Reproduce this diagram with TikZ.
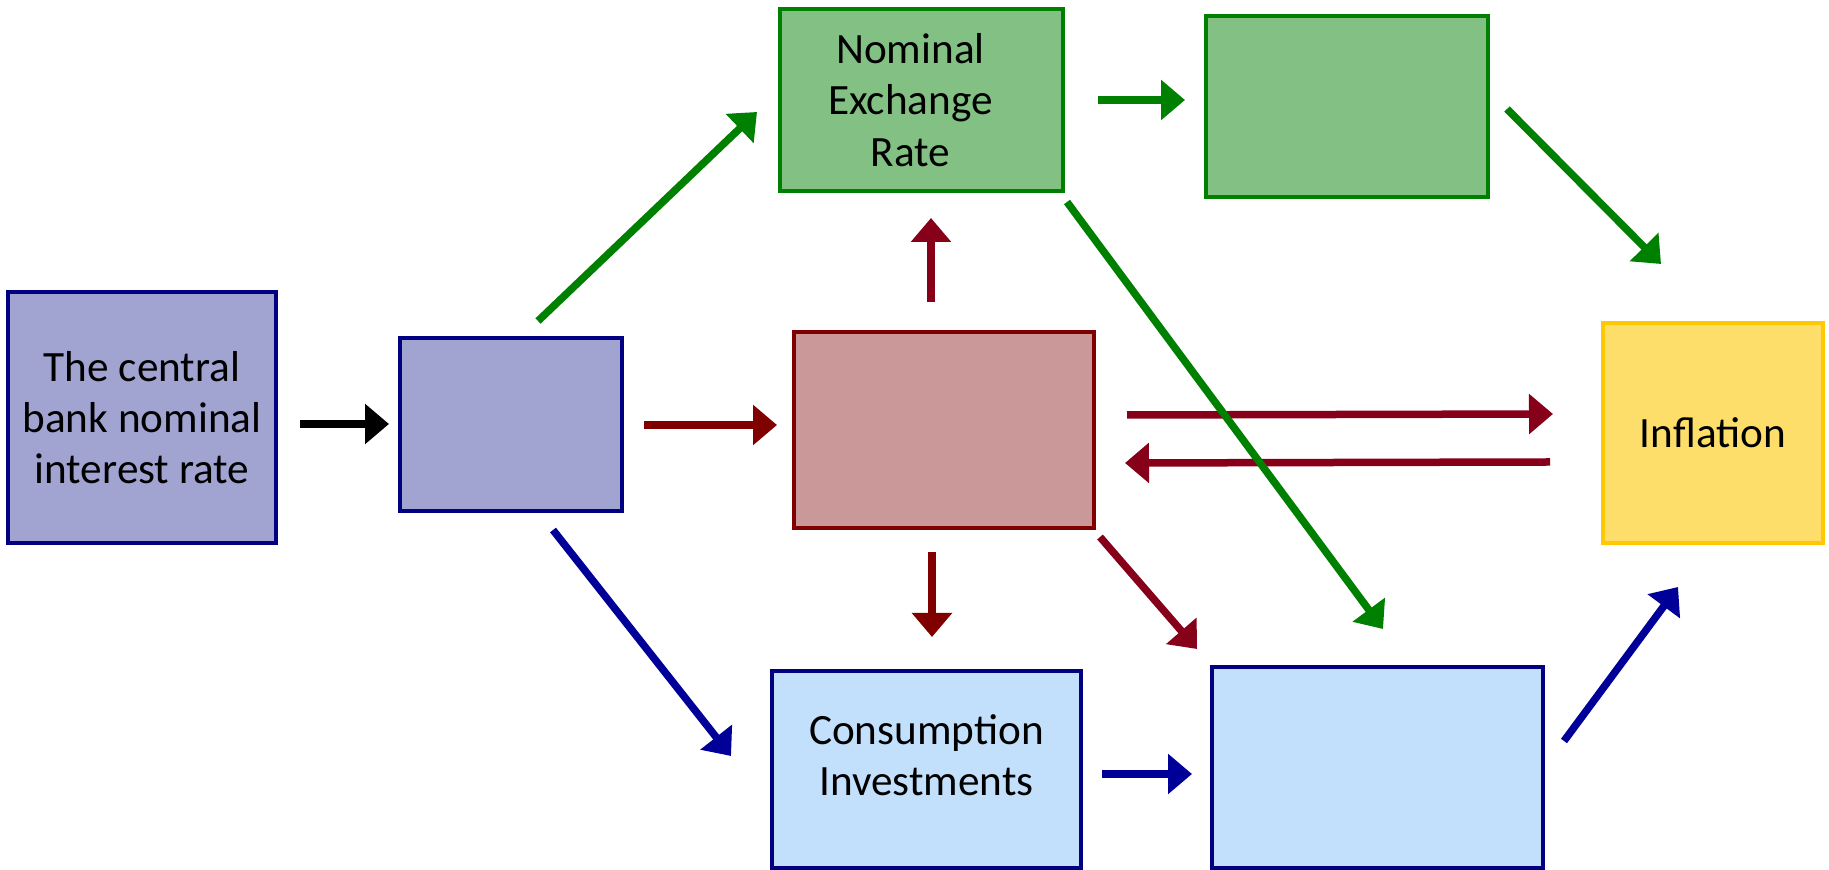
\documentclass[tikz,border=0pt]{standalone}
\usepackage{fontspec}
\setmainfont{Carlito}
\usetikzlibrary{arrows.meta}

\definecolor{purplefill}{HTML}{A1A3D1}
\definecolor{navyline}{HTML}{000080}
\definecolor{greenfill}{HTML}{82C083}
\definecolor{greenline}{HTML}{008000}
\definecolor{redfill}{HTML}{CA9898}
\definecolor{redline}{HTML}{800000}
\definecolor{wine}{HTML}{86001A}
\definecolor{bluefill}{HTML}{C2E0FC}
\definecolor{bluearrow}{HTML}{000099}
\definecolor{yellowfill}{HTML}{FDDE6A}
\definecolor{yellowline}{HTML}{FFC800}

\tikzset{
  boxtext/.style={align=center, font=\fontsize{17.3}{20.5}\selectfont},
  box/.style={draw, line width=1.3pt, inner sep=0pt, boxtext},
  arr/.style={line width=3pt, -{Triangle[length=9.6pt,width=15.6pt]}},
}

\begin{document}
\begin{tikzpicture}[x=0.4pt,y=-0.4pt]
  \useasboundingbox (0,0) rectangle (1829,870);

  % boxes
  \node[box, fill=purplefill, draw=navyline, minimum width=107.2pt, minimum height=100.4pt]
    (bank) at (142,417.5) {The central\\bank nominal\\interest rate};
  \node[box, fill=purplefill, draw=navyline, minimum width=88.8pt, minimum height=69.2pt]
    (rate) at (511,424.5) {};
  \node[box, fill=greenfill, draw=greenline, minimum width=113.2pt, minimum height=72.8pt,
    label={[boxtext, xshift=-4.4pt]center:Nominal\\Exchange\\Rate}]
    (exch) at (921.5,100) {};
  \node[box, fill=greenfill, draw=greenline, minimum width=112.8pt, minimum height=72.4pt]
    (imp) at (1347,106.5) {};
  \node[box, fill=redfill, draw=redline, minimum width=120pt, minimum height=78.4pt]
    (expt) at (944,430) {};
  \node[box, fill=bluefill, draw=navyline, minimum width=123.6pt, minimum height=78.8pt,
    label={[boxtext, yshift=5.6pt]center:Consumption\\Investments}]
    (cons) at (926.5,769.5) {};
  \node[box, fill=bluefill, draw=navyline, minimum width=132.4pt, minimum height=80.4pt]
    (dem) at (1377.5,767.5) {};
  \node[box, fill=yellowfill, draw=yellowline, minimum width=88pt, minimum height=88pt]
    (infl) at (1713,433) {Inflation};

  % connector ends
  \coordinate (bank-out) at (300,424);
  \coordinate (rate-in) at (389,424);
  \coordinate (rate-up) at (538,321);
  \coordinate (exch-in) at (757,112);
  \coordinate (rate-out) at (644,425);
  \coordinate (expt-in) at (777,425);
  \coordinate (rate-down) at (553,530);
  \coordinate (cons-in) at (731,756);
  \coordinate (exch-out) at (1098,100);
  \coordinate (imp-in) at (1185,100);
  \coordinate (imp-out) at (1507,109);
  \coordinate (infl-top) at (1661,264);
  \coordinate (exch-low) at (1067,202);
  \coordinate (dem-top) at (1383,629);
  \coordinate (expt-up) at (931,302);
  \coordinate (exch-bot) at (931,218);
  \coordinate (expt-down) at (932,552);
  \coordinate (cons-top) at (932,637);
  \coordinate (expt-diag) at (1100,537);
  \coordinate (dem-left) at (1197,649);
  \coordinate (expt-right) at (1127,415);
  \coordinate (infl-in) at (1553,414);
  \coordinate (infl-out) at (1550,462);
  \coordinate (expt-back) at (1125,463);
  \coordinate (cons-out) at (1102,774);
  \coordinate (dem-in) at (1192,774);
  \coordinate (dem-out) at (1564,741);
  \coordinate (infl-bot) at (1678,587);

  % arrows
  \draw[arr, black] (bank-out) -- (rate-in);
  \draw[arr, greenline] (rate-up) -- (exch-in);
  \draw[arr, redline] (rate-out) -- (expt-in);
  \draw[arr, bluearrow] (rate-down) -- (cons-in);
  \draw[arr, greenline] (exch-out) -- (imp-in);
  \draw[arr, greenline] (imp-out) -- (infl-top);
  \draw[arr, wine] (expt-up) -- (exch-bot);
  \draw[arr, redline] (expt-down) -- (cons-top);
  \draw[arr, wine] (expt-diag) -- (dem-left);
  \draw[arr, wine] (expt-right) -- (infl-in);
  \draw[arr, wine] (infl-out) -- (expt-back);
  \draw[arr, greenline] (exch-low) -- (dem-top);
  \draw[arr, bluearrow] (cons-out) -- (dem-in);
  \draw[arr, bluearrow] (dem-out) -- (infl-bot);
\end{tikzpicture}
\end{document}
